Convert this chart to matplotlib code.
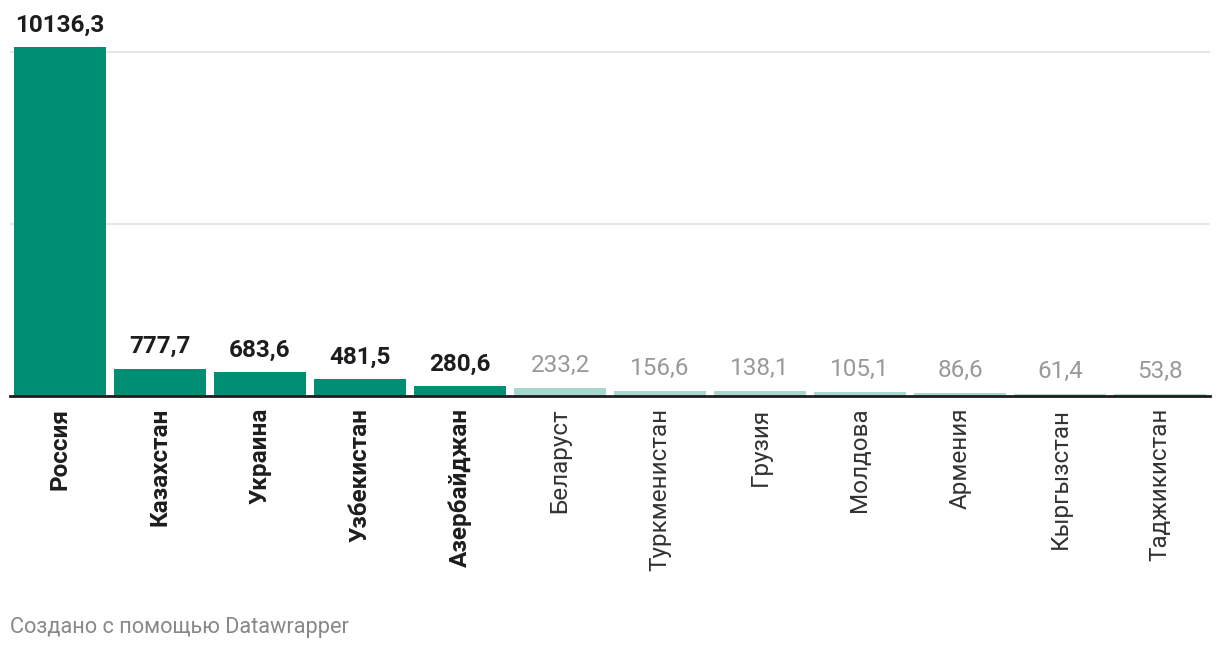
import matplotlib.pyplot as plt
from matplotlib.ticker import FixedLocator

plt.rcParams['font.family'] = ['Roboto', 'DejaVu Sans']

countries = ['Россия', 'Казахстан', 'Украина', 'Узбекистан', 'Азербайджан',
             'Беларуст', 'Туркменистан', 'Грузия', 'Молдова', 'Армения',
             'Кыргызстан', 'Таджикистан']
values = [10136.3, 777.7, 683.6, 481.5, 280.6, 233.2, 156.6, 138.1,
          105.1, 86.6, 61.4, 53.8]
highlight = [True] * 5 + [False] * 7

dark = '#018f74'
light = '#a6d8ce'

W, H = 1220, 654
fig = plt.figure(figsize=(W / 100, H / 100), dpi=100)
# axes in pixel coords: left 10, right 1210, baseline 396, top 20
ax = fig.add_axes([10 / W, (H - 396) / H, 1200 / W, (396 - 20) / H])

px_per_unit = 344 / 10000
ax.set_xlim(-0.5, 11.5)
ax.set_ylim(0, (396 - 20) / px_per_unit)

x = range(len(values))
colors = [dark if h else light for h in highlight]
ax.bar(x, values, width=0.92, color=colors, zorder=2)

# gridlines
ax.yaxis.set_major_locator(FixedLocator([5000, 10000]))
ax.grid(axis='y', color='#e6e6e6', linewidth=1.5, zorder=0)
ax.tick_params(axis='y', length=0, labelleft=False)
ax.axhline(0, color='#1d1d1d', linewidth=2, zorder=3, clip_on=False)

for s in ax.spines.values():
    s.set_visible(False)

ax.set_xticks(list(x))
ax.set_xticklabels([])
ax.tick_params(axis='x', length=0)

for i, (v, h) in enumerate(zip(values, highlight)):
    lab = f'{v:.1f}'.replace('.', ',')
    ax.annotate(lab, (i, v), xytext=(0, 11.5), textcoords='offset points',
                ha='center', va='baseline', fontsize=17.5,
                fontweight='bold' if h else 'normal',
                color='#1d1d1d' if h else '#999999')
    ax.annotate(countries[i], (i, 0), xytext=(0, -8.5), textcoords='offset points',
                ha='center', va='top', rotation=90, fontsize=17.5,
                fontweight='bold' if h else 'normal',
                color='#1d1d1d' if h else '#333333')

fig.text(10 / W, 1 - 628 / H, 'Создано с помощью Datawrapper', ha='left',
         va='center', fontsize=15.7, color='#888888')

fig.savefig('out.png', dpi=100)
